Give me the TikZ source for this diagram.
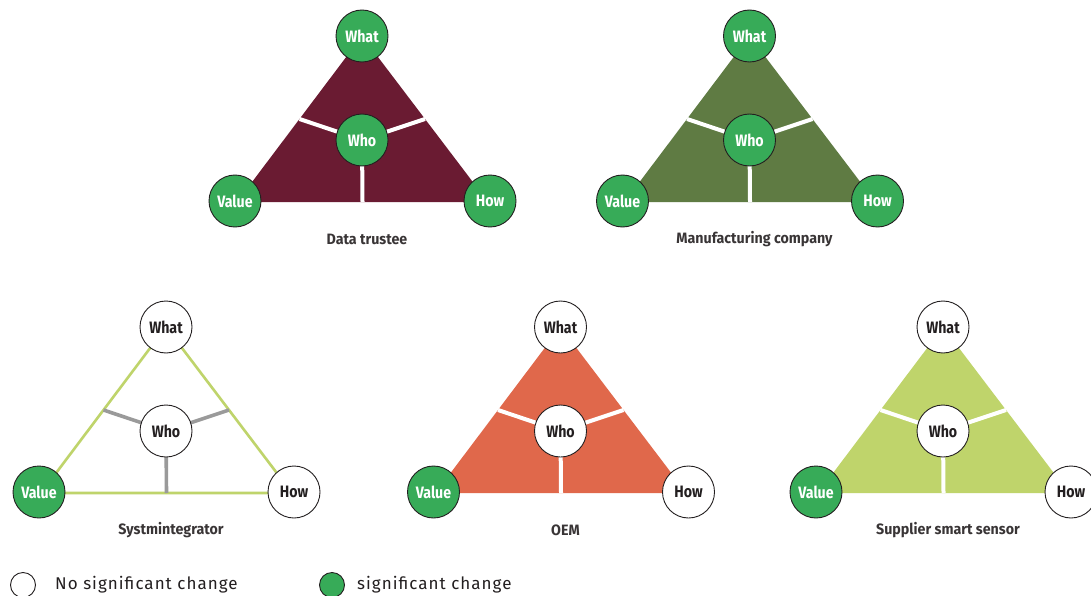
\documentclass[tikz,border=0pt]{standalone}
\usepackage{fontspec}
\usetikzlibrary{calc}
\setmainfont{Fira Sans}
\newfontfamily\lblfont{Fira Sans}[FakeStretch=0.86]
\newfontfamily\capfont{Fira Sans}[FakeStretch=0.95]
\newfontfamily\legfont{Fira Sans}[LetterSpace=6]

\definecolor{maroon}{HTML}{6A1B32}
\definecolor{olive}{HTML}{5F7B43}
\definecolor{oemorange}{HTML}{E0684B}
\definecolor{lime}{HTML}{BFD46B}
\definecolor{cgreen}{HTML}{37AB58}
\definecolor{ink}{HTML}{231F20}
\definecolor{divgray}{HTML}{9A9A9A}

\tikzset{
  circ/.style={circle, draw=ink, line width=0.9pt, minimum size=52pt, inner sep=0pt,
    font=\lblfont\bfseries\fontsize{16.5}{16.5}\selectfont},
  yes/.style={circ, fill=cgreen, text=white},
  no/.style={circ, fill=white, text=ink},
  caption/.style={font=\capfont\bfseries\fontsize{15}{15}\selectfont, text=ink!90},
  legtext/.style={font=\legfont\fontsize{17}{17}\selectfont, text=ink, anchor=west, inner sep=0pt},
  % triangle looks
  tmaroon/.style={fill=maroon},
  tmaroon div/.style={draw=white, line width=4pt},
  tolive/.style={fill=olive},
  tolive div/.style={draw=white, line width=4pt},
  torange/.style={fill=oemorange},
  torange div/.style={draw=white, line width=4pt},
  tlime/.style={fill=lime},
  tlime div/.style={draw=white, line width=4pt},
  toutline/.style={draw=lime, line width=2.6pt},
  toutline div/.style={draw=divgray, line width=3.6pt},
}

% #1 name, #2 x, #3 y of apex, #4 triangle look, #5 caption,
% #6-#9 styles of What, Who, Value, How
\newcommand\ktri[9]{%
  \begin{scope}[shift={(#2,#3)}]
    \coordinate (#1-a) at (0,0);
    \coordinate (#1-l) at (-125,166);
    \coordinate (#1-r) at (126,166);
    \coordinate (#1-c) at (0,104);
    \path[#4] (#1-a) -- (#1-l) -- (#1-r) -- cycle;
    \path[#4 div] (#1-c) -- ($(#1-a)!0.5!(#1-l)$);
    \path[#4 div] (#1-c) -- ($(#1-a)!0.5!(#1-r)$);
    \path[#4 div] (#1-c) -- ($(#1-l)!0.5!(#1-r)$);
    \node[#6] (#1-what) at (#1-a) {What};
    \node[#7] (#1-who) at (#1-c) {Who};
    \node[#8] (#1-value) at (-127,165) {Value};
    \node[#9] (#1-how) at (128,165) {How};
    \node[caption] (#1-cap) at (5,203) {#5};
  \end{scope}}

\begin{document}
\begin{tikzpicture}[x=1pt, y=-1pt]
  \useasboundingbox[fill=white] (0,0) rectangle (1091,596);

  \ktri{trustee}{362}{36}{tmaroon}{Data trustee}{yes}{yes}{yes}{yes}
  \ktri{manu}{749.5}{36}{tolive}{Manufacturing company}{yes}{yes}{yes}{yes}
  \ktri{sysint}{166}{327}{toutline}{Systmintegrator}{no}{no}{yes}{no}
  \ktri{oem}{560.5}{327}{torange}{OEM}{no}{no}{yes}{no}
  \ktri{supplier}{943}{327}{tlime}{Supplier smart sensor}{no}{no}{yes}{no}

  % legend
  \node[circle, draw=ink, line width=0.9pt, fill=white, minimum size=25pt, inner sep=0pt] (leg-no) at (23,585) {};
  \node[legtext] (leg-no-t) at (55,585) {No significant change};
  \node[circle, draw=ink, line width=0.9pt, fill=cgreen, minimum size=25pt, inner sep=0pt] (leg-yes) at (332,585) {};
  \node[legtext] (leg-yes-t) at (357,585) {significant change};
\end{tikzpicture}
\end{document}
